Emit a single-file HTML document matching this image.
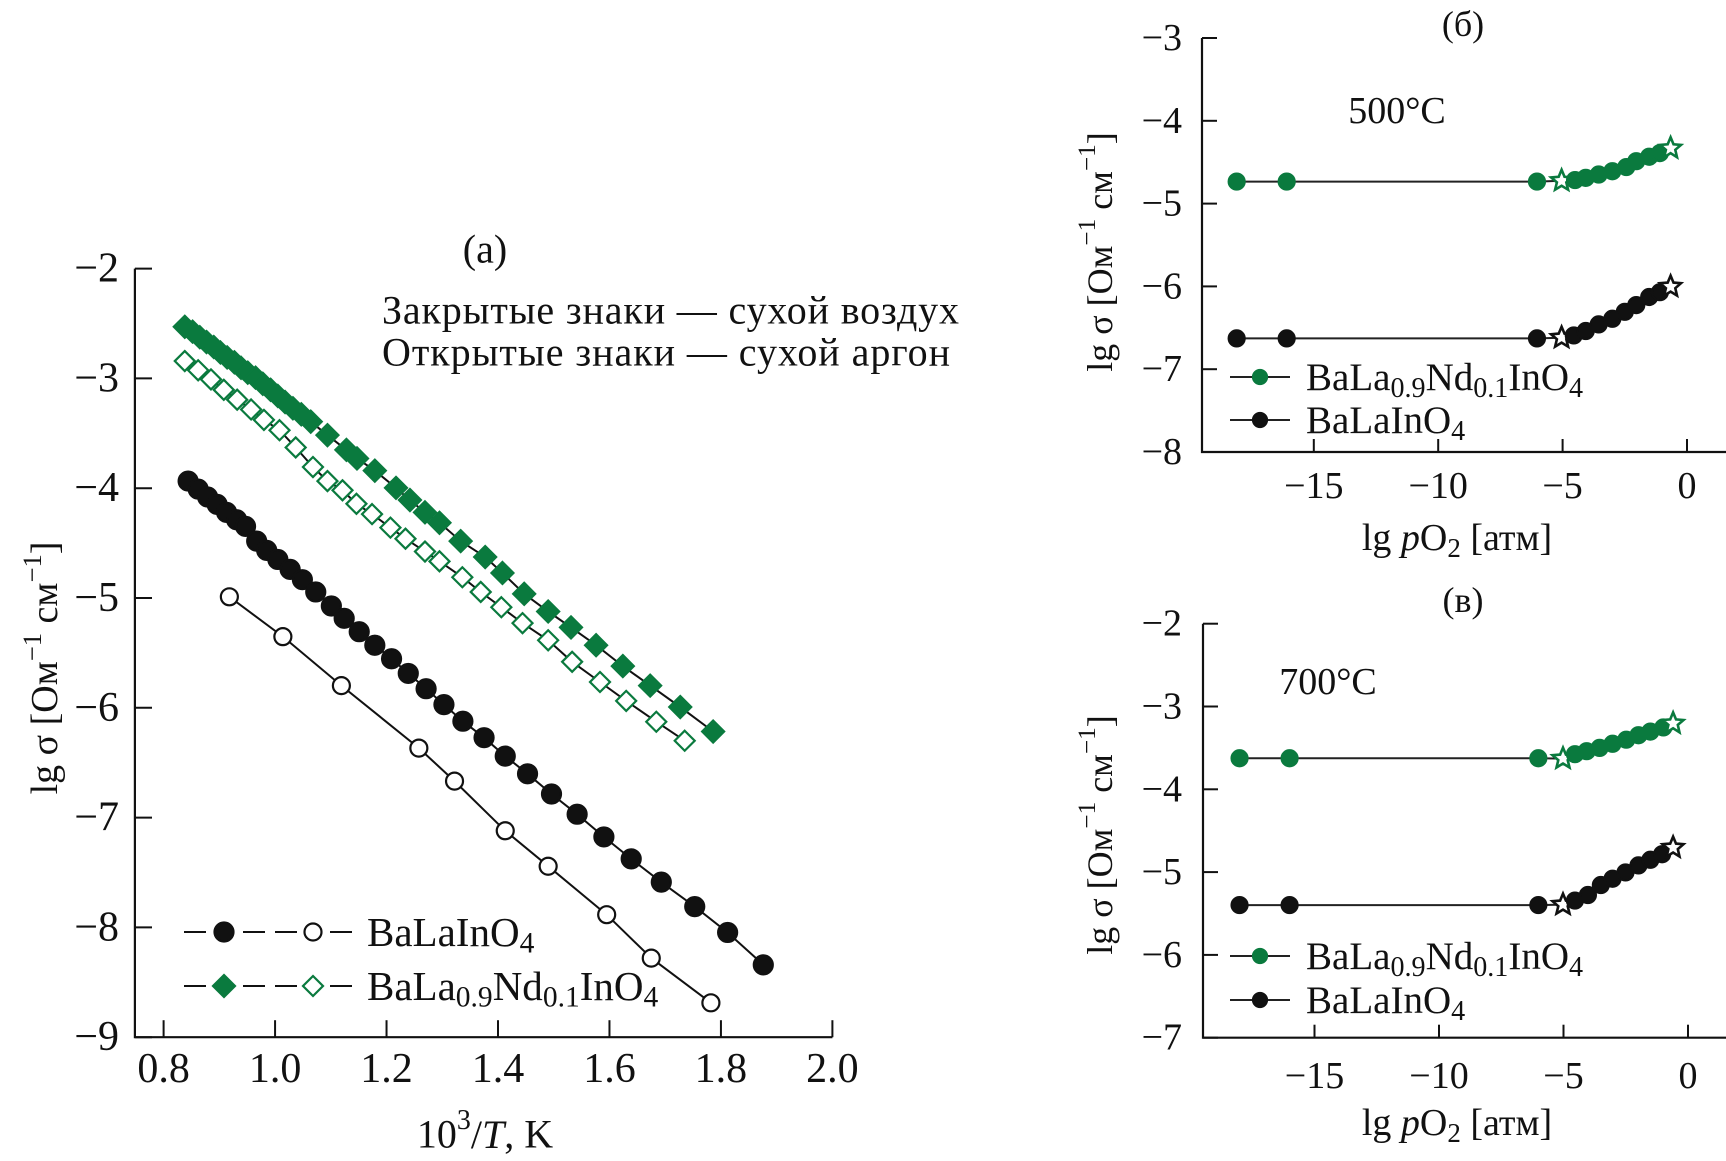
<!DOCTYPE html>
<html><head><meta charset="utf-8">
<style>
html,body{margin:0;padding:0;background:#fff;}
svg{display:block;font-family:"Liberation Serif","DejaVu Serif",serif;}
</style></head>
<body>
<svg id="fig" width="1726" height="1161" viewBox="0 0 1726 1161" xmlns="http://www.w3.org/2000/svg">
<rect width="1726" height="1161" fill="#fff"/>
<g id="ga"></g>
<g id="gb"></g>
<g id="gc"></g>
</svg>
<script>
// ---------- Panel (a) data ----------
const aTicksX = [0.8, 1.0, 1.2, 1.4, 1.6, 1.8, 2.0];
const aTickLabelsX = ["0.8", "1.0", "1.2", "1.4", "1.6", "1.8", "2.0"];
const aTicksY = [-2, -3, -4, -5, -6, -7, -8, -9];
const aTickLabelsY = ["−2", "−3", "−4", "−5", "−6", "−7", "−8", "−9"];
const blackFilledX = [0.844,0.862,0.879,0.896,0.913,0.931,0.947,0.967,0.985,1.005,1.027,1.049,1.073,1.101,1.124,1.151,1.179,1.209,1.239,1.271,1.303,1.337,1.375,1.413,1.453,1.496,1.542,1.590,1.639,1.693,1.753,1.812,1.876];
const blackFilledY = [-3.935,-4.008,-4.08,-4.147,-4.22,-4.287,-4.348,-4.482,-4.566,-4.649,-4.739,-4.833,-4.945,-5.073,-5.185,-5.307,-5.43,-5.553,-5.687,-5.826,-5.971,-6.122,-6.272,-6.44,-6.601,-6.785,-6.969,-7.176,-7.376,-7.588,-7.811,-8.046,-8.341];
const blackOpenX = [0.918,1.014,1.119,1.258,1.322,1.413,1.490,1.595,1.675,1.782];
const blackOpenY = [-4.989,-5.352,-5.798,-6.367,-6.668,-7.12,-7.443,-7.884,-8.28,-8.687];
const greenFilledX = [0.838,0.852,0.865,0.877,0.890,0.902,0.914,0.927,0.939,0.951,0.965,0.978,0.992,1.005,1.018,1.032,1.047,1.064,1.094,1.128,1.147,1.179,1.217,1.242,1.269,1.295,1.333,1.377,1.408,1.447,1.490,1.531,1.576,1.624,1.673,1.727,1.786];
const greenFilledY = [-2.53,-2.574,-2.625,-2.669,-2.714,-2.764,-2.809,-2.853,-2.904,-2.948,-2.993,-3.049,-3.104,-3.16,-3.216,-3.272,-3.327,-3.394,-3.517,-3.651,-3.729,-3.84,-3.997,-4.108,-4.22,-4.315,-4.482,-4.627,-4.772,-4.962,-5.123,-5.268,-5.43,-5.62,-5.798,-5.993,-6.216];
const greenOpenX = [0.838,0.862,0.885,0.908,0.932,0.957,0.980,1.008,1.037,1.068,1.094,1.121,1.146,1.174,1.207,1.234,1.269,1.295,1.336,1.369,1.406,1.444,1.490,1.533,1.583,1.630,1.684,1.735];
const greenOpenY = [-2.842,-2.926,-3.009,-3.104,-3.194,-3.283,-3.378,-3.472,-3.629,-3.807,-3.935,-4.019,-4.142,-4.236,-4.359,-4.46,-4.577,-4.666,-4.811,-4.945,-5.084,-5.229,-5.385,-5.581,-5.765,-5.937,-6.127,-6.3];

// ---------- Panel (б) data, 500°C ----------
const pTicksX = [-15, -10, -5, 0];
const pTickLabelsX = ["−15", "−10", "−5", "0"];
const bTicksY = [-3, -4, -5, -6, -7, -8];
const bTickLabelsY = ["−3", "−4", "−5", "−6", "−7", "−8"];
const bGreenX = [-18.1,-16.09,-6.03,-5.04,-4.5,-4.07,-3.55,-3.0,-2.44,-2.04,-1.52,-1.09,-0.66];
const bGreenY = [-4.734,-4.734,-4.734,-4.725,-4.716,-4.689,-4.649,-4.609,-4.559,-4.488,-4.434,-4.39,-4.332];
const bBlackX = [-18.1,-16.09,-6.03,-5.04,-4.55,-4.07,-3.55,-3.0,-2.5,-2.04,-1.52,-1.09,-0.66];
const bBlackY = [-6.628,-6.628,-6.628,-6.619,-6.592,-6.539,-6.459,-6.391,-6.307,-6.226,-6.128,-6.07,-6.003];

// ---------- Panel (в) data, 700°C ----------
const cTicksY = [-2, -3, -4, -5, -6, -7];
const cTickLabelsY = ["−2", "−3", "−4", "−5", "−6", "−7"];
const cGreenX = [-18.01,-16.0,-6.01,-5.02,-4.54,-4.07,-3.55,-3.03,-2.48,-1.99,-1.51,-0.99,-0.6];
const cGreenY = [-3.625,-3.625,-3.625,-3.629,-3.576,-3.54,-3.5,-3.45,-3.401,-3.347,-3.303,-3.253,-3.204];
const cBlackX = [-18.01,-16.0,-6.01,-5.02,-4.54,-4.02,-3.5,-3.03,-2.51,-1.99,-1.51,-1.04,-0.6];
const cBlackY = [-5.398,-5.398,-5.398,-5.393,-5.344,-5.277,-5.156,-5.08,-5.004,-4.919,-4.851,-4.784,-4.704];

const GREEN = "#0a7a3e";
const NS = "http://www.w3.org/2000/svg";
function mk(parent, tag, attrs) {
  const e = document.createElementNS(NS, tag);
  for (const k in attrs) e.setAttribute(k, attrs[k]);
  parent.appendChild(e);
  return e;
}
function txt(parent, x, y, s, size, anchor) {
  const t = mk(parent, "text", {x: x, y: y, "font-size": size, "text-anchor": anchor || "middle", "dominant-baseline": "central", fill: "#111"});
  t.textContent = s;
  return t;
}

const xA = v => 163.6 + (v - 0.8) / 1.2 * (832.4 - 163.6);
const yA = v => 268.6 + (-2 - v) * 109.8;
const xB = v => 1687 + v * 24.88;
const yB = v => 38 + (-3 - v) * 82.8;
const xC = v => 1688 + v * 24.9;
const yC = v => 623.7 + (-2 - v) * 82.8;

function polyline(g, xs, ys, fx, fy, color) {
  let d = "";
  for (let i = 0; i < xs.length; i++) d += (i ? "L" : "M") + fx(xs[i]).toFixed(1) + " " + fy(ys[i]).toFixed(1);
  const p = mk(g, "path", {d: d, fill: "none", stroke: color, "stroke-width": 2});
  
  
  return p;
}
function circle(g, x, y, r, fill, stroke) {
  const c = mk(g, "circle", {cx: x, cy: y, r: r, fill: fill, stroke: stroke, "stroke-width": 2.2});
  
  
  return c;
}
function diamond(g, x, y, r, fill, stroke) {
  const p = mk(g, "path", {d: `M${x} ${y-r}L${x+r} ${y}L${x} ${y+r}L${x-r} ${y}Z`, fill: fill, stroke: stroke, "stroke-width": 2.2});
  
  
  return p;
}
function star(g, x, y, r, stroke) {
  let d = "";
  for (let i = 0; i < 10; i++) {
    const a = -Math.PI / 2 + i * Math.PI / 5;
    const rr = i % 2 ? r * 0.45 : r;
    d += (i ? "L" : "M") + (x + rr * Math.cos(a)).toFixed(1) + " " + (y + rr * Math.sin(a)).toFixed(1);
  }
  const p = mk(g, "path", {d: d + "Z", fill: "#fff", stroke: stroke, "stroke-width": 2.6});
  
  
  return p;
}
function formula(g, x, y, size, sub) {
  const t = mk(g, "text", {x: x, y: y, "font-size": size, fill: "#111", "dominant-baseline": "central"});
  
  
  const parts = sub ? [["BaLa",0],["0.9",1],["Nd",0],["0.1",1],["InO",0],["4",1]] : [["BaLaInO",0],["4",1]];
  parts.forEach(p => {
    const s = document.createElementNS(NS, "tspan");
    if (p[1]) { s.setAttribute("font-size", size * 0.72); s.setAttribute("dy", size * 0.28); }
    else if (t.childNodes.length) { s.setAttribute("dy", -size * 0.28); }
    s.textContent = p[0];
    t.appendChild(s);
  });
  return t;
}
function ylabel(g, cx, cy, size) {
  const t = mk(g, "text", {x: 0, y: 0, "font-size": size, fill: "#111", "text-anchor": "middle", "dominant-baseline": "central", transform: `translate(${cx},${cy}) rotate(-90)`});
  
  
  t.innerHTML = 'lg σ [Ом<tspan dy="-13" font-size="' + (size*0.7) + '">−1</tspan><tspan dy="13"> см</tspan><tspan dy="-13" font-size="' + (size*0.7) + '">−1</tspan><tspan dy="13">]</tspan>';
  return t;
}

// ================= Panel (a) =================
(function() {
  const g = document.getElementById("ga");
  const ax = mk(g, "path", {d: `M134.9 ${yA(-2)}L134.9 ${yA(-9)}L832.4 ${yA(-9)}`, fill: "none", stroke: "#111", "stroke-width": 2.2});
  
  
  aTicksY.forEach((v, i) => {
    mk(g, "line", {x1: 134.9, x2: 152, y1: yA(v), y2: yA(v), stroke: "#111", "stroke-width": 2});
    const t = txt(g, 119, yA(v), aTickLabelsY[i], 42, "end");
    
    
  });
  aTicksX.forEach((v, i) => {
    mk(g, "line", {x1: xA(v), x2: xA(v), y1: yA(-9), y2: yA(-9) - 17, stroke: "#111", "stroke-width": 2});
    const t = txt(g, xA(v), 1069, aTickLabelsX[i], 42);
    
    
  });
  const xt = mk(g, "text", {x: 485, y: 1134, "font-size": 40, "text-anchor": "middle", "dominant-baseline": "central", fill: "#111"});
  
  
  xt.innerHTML = '10<tspan dy="-14" font-size="28">3</tspan><tspan dy="14">/</tspan><tspan font-style="italic">T</tspan>, K';
  ylabel(g, 45, 668, 38);
  const ti = txt(g, 485, 249, "(a)", 40);
  
  
  const n1 = txt(g, 382, 310, "Закрытые знаки — сухой воздух", 40, "start");
  n1.setAttribute("textLength", 577);
  
  
  const n2 = txt(g, 382, 352, "Открытые знаки — сухой аргон", 40, "start");
  n2.setAttribute("textLength", 568);
  
  

  polyline(g, blackFilledX, blackFilledY, xA, yA, "#111");
  polyline(g, blackOpenX, blackOpenY, xA, yA, "#111");
  polyline(g, greenFilledX, greenFilledY, xA, yA, "#111");
  polyline(g, greenOpenX, greenOpenY, xA, yA, "#111");
  blackFilledX.forEach((v, i) => circle(g, xA(v), yA(blackFilledY[i]), 9.5, "#111", "#111"));
  blackOpenX.forEach((v, i) => circle(g, xA(v), yA(blackOpenY[i]), 8.5, "#fff", "#111"));
  greenFilledX.forEach((v, i) => diamond(g, xA(v), yA(greenFilledY[i]), 11, GREEN, GREEN));
  greenOpenX.forEach((v, i) => diamond(g, xA(v), yA(greenOpenY[i]), 10, "#fff", GREEN));

  [[932, false], [986, true]].forEach(([y, sub]) => {
    mk(g, "line", {x1: 184, x2: 206, y1: y, y2: y, stroke: "#111", "stroke-width": 2});
    mk(g, "line", {x1: 243, x2: 265, y1: y, y2: y, stroke: "#111", "stroke-width": 2});
    mk(g, "line", {x1: 275, x2: 297, y1: y, y2: y, stroke: "#111", "stroke-width": 2});
    mk(g, "line", {x1: 330, x2: 352, y1: y, y2: y, stroke: "#111", "stroke-width": 2});
    if (sub) { diamond(g, 224, y, 11, GREEN, GREEN); diamond(g, 313, y, 10, "#fff", GREEN); }
    else { circle(g, 224, y, 9.5, "#111", "#111"); circle(g, 313, y, 8.5, "#fff", "#111"); }
    formula(g, 367, y, 41, sub);
  });
})();

// ================= Panels (б) and (в) =================
function panel(gid, fx, fy, ticksY, labelsY, yTop, yBot, axX, gx, gy, kx, ky, title, titleY, temp, tempX, tempY, legY1, legY2, tickLabY, xTitleY, yLabY) {
  const g = document.getElementById(gid);
  const ax = mk(g, "path", {d: `M${axX} ${fy(yTop)}L${axX} ${fy(yBot)}L1726 ${fy(yBot)}`, fill: "none", stroke: "#111", "stroke-width": 2.2});
  
  
  ticksY.forEach((v, i) => {
    mk(g, "line", {x1: axX, x2: axX + 15, y1: fy(v), y2: fy(v), stroke: "#111", "stroke-width": 2});
    const t = txt(g, 1182, fy(v), labelsY[i], 38, "end");
    
    
  });
  pTicksX.forEach((v, i) => {
    mk(g, "line", {x1: fx(v), x2: fx(v), y1: fy(yBot), y2: fy(yBot) - 13, stroke: "#111", "stroke-width": 2});
    const t = txt(g, fx(v), tickLabY, pTickLabelsX[i], 38);
    
    
  });
  const xt = mk(g, "text", {x: 1457, y: xTitleY, "font-size": 38, "text-anchor": "middle", "dominant-baseline": "central", fill: "#111"});
  
  
  xt.innerHTML = 'lg <tspan font-style="italic">p</tspan>O<tspan dy="10" font-size="27">2</tspan><tspan dy="-10"> [атм]</tspan>';
  ylabel(g, 1100, yLabY, 36);
  const ti = txt(g, 1463, titleY, title, 36);
  
  
  const te = txt(g, tempX, tempY, temp, 38);
  
  

  [[kx, ky, "#111"], [gx, gy, GREEN]].forEach(([xs, ys, col]) => {
    polyline(g, xs, ys, fx, fy, "#222");
    xs.forEach((v, i) => {
      if (i === 3 || i === xs.length - 1) star(g, fx(v), fy(ys[i]), 11, col);
      else circle(g, fx(v), fy(ys[i]), 8, col, col);
    });
  });
  [[legY1, GREEN, true], [legY2, "#111", false]].forEach(([y, col, sub]) => {
    mk(g, "line", {x1: 1230, x2: 1290, y1: y, y2: y, stroke: "#222", "stroke-width": 2});
    circle(g, 1260, y, 7, col, col);
    formula(g, 1306, y, 39, sub);
  });
}
panel("gb", xB, yB, bTicksY, bTickLabelsY, -3, -8, 1202, bGreenX, bGreenY, bBlackX, bBlackY,
      "(б)", 24, "500°C", 1397, 111, 377, 420, 486, 538, 252);
panel("gc", xC, yC, cTicksY, cTickLabelsY, -2, -7, 1203, cGreenX, cGreenY, cBlackX, cBlackY,
      "(в)", 600, "700°C", 1328, 682, 956, 1000, 1076, 1123, 835);
</script>
</body></html>
